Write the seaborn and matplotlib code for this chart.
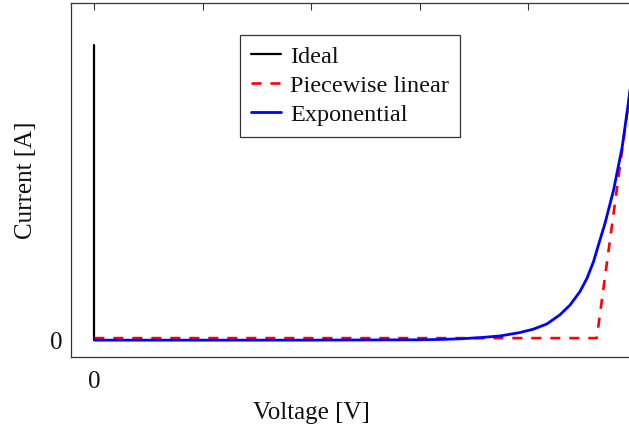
import numpy as np
import pandas as pd
import matplotlib
matplotlib.use("Agg")
import matplotlib.pyplot as plt
import seaborn as sns

# =============================================================================
# DATA
# =============================================================================
voltage_ideal = [0.0, 0.0]
current_ideal = [0.0, 1.75]

voltage_pwl = [0.0, 0.927, 1.0]
current_pwl = [0.012, 0.012, 1.75]

voltage_exp = [0.0, 0.38, 0.60, 0.638, 0.675, 0.712, 0.749, 0.785, 0.810,
               0.835, 0.859, 0.878, 0.896, 0.909, 0.921, 0.930, 0.942,
               0.958, 0.974, 0.9865, 1.0]
current_exp = [0.0, 0.0, 0.002, 0.004, 0.008, 0.015, 0.025, 0.045, 0.065,
               0.096, 0.150, 0.209, 0.288, 0.367, 0.465, 0.563, 0.690,
               0.889, 1.146, 1.434, 1.80]

x_ticks = [0.0, 0.2, 0.4, 0.6, 0.8]
x_tick_labels = ["0", "", "", "", ""]
y_ticks = [0.0, 0.5, 1.0, 1.5]
y_tick_labels = ["0", "", "", ""]

series_names = ["Ideal", "Piecewise linear", "Exponential"]

# =============================================================================
# STYLE
# =============================================================================
sns.set_theme(style="white")
plt.rcParams['font.family'] = ['Liberation Serif', 'DejaVu Serif']
plt.rcParams['font.size'] = 17.5
SPINE = '#333333'
TEXT = '#111111'

fig = plt.figure(figsize=(6.29, 4.28), dpi=100)
ax = fig.add_axes([71 / 629, 71 / 428, 565.3 / 629, 354 / 428])

df_ideal = pd.DataFrame({'V': voltage_ideal, 'I': current_ideal})
df_pwl = pd.DataFrame({'V': voltage_pwl, 'I': current_pwl})
df_exp = pd.DataFrame({'V': voltage_exp, 'I': current_exp})

sns.lineplot(data=df_ideal, x='V', y='I', sort=False, estimator=None,
             color='black', linewidth=1.6, label=series_names[0], ax=ax)
sns.lineplot(data=df_pwl, x='V', y='I', sort=False, estimator=None,
             color='#ff0000', linewidth=1.9, label=series_names[1], ax=ax)
ax.lines[-1].set_linestyle((0, (3.8, 3.4)))
sns.lineplot(data=df_exp, x='V', y='I', sort=False, estimator=None,
             color='#0000ff', linewidth=2.0, label=series_names[2], ax=ax)

ax.set_xlim(-0.043, 1.0)
ax.set_ylim(-0.1, 2.0)
ax.set_xticks(x_ticks)
ax.set_xticklabels(x_tick_labels)
ax.set_yticks(y_ticks)
ax.set_yticklabels(y_tick_labels)
ax.tick_params(axis='both', direction='in', length=5, width=0.8, color=SPINE,
               labelsize=18, labelcolor=TEXT, top=True, right=True)
ax.tick_params(axis='x', pad=10)
ax.tick_params(axis='y', pad=6)
for s in ax.spines.values():
    s.set_color(SPINE)
    s.set_linewidth(0.9)

ax.set_xlabel("Voltage [V]", fontsize=18, color=TEXT)
ax.set_ylabel("Current [A]", fontsize=18, color=TEXT)
ax.xaxis.set_label_coords((311 - 71) / 565.3, -0.126)
ax.yaxis.set_label_coords(-0.061, 0.5)

leg = ax.legend(loc='upper left', bbox_to_anchor=(240 / 629, 1 - 35 / 428),
                bbox_transform=fig.transFigure, borderaxespad=0,
                fontsize=17.5, frameon=True, fancybox=False, framealpha=1,
                handlelength=1.25, handletextpad=0.35, borderpad=0.45,
                labelspacing=0.28)
leg.get_frame().set_edgecolor(SPINE)
leg.get_frame().set_linewidth(0.9)
for t in leg.get_texts():
    t.set_color(TEXT)

plt.savefig("out.png", dpi=100)
